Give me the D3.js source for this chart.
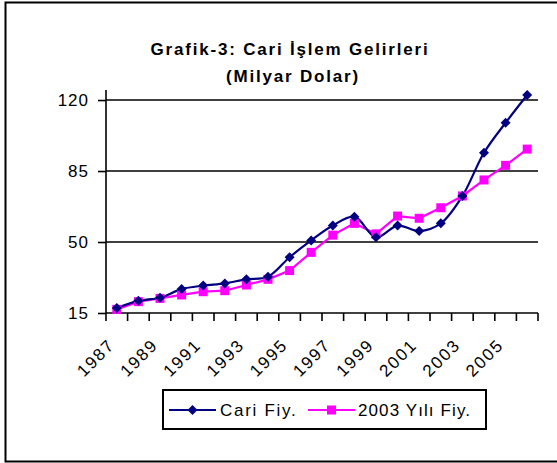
<!DOCTYPE html>
<html>
<head>
<meta charset="utf-8">
<script src="https://cdn.jsdelivr.net/npm/d3@7"></script>
<style>
  body { margin: 0; background: #fff; }
  text { font-family: "Liberation Sans", Arial, sans-serif; fill: #000; }
</style>
</head>
<body>
<div id="chart"></div>
<script>
// values (Milyar Dolar)
const years = ["1987","1988","1989","1990","1991","1992","1993","1994","1995","1996",
               "1997","1998","1999","2000","2001","2002","2003","2004","2005","2006"]
const cariFiy = [17.5, 21, 22.5, 26.8, 28.5, 29.6, 31.6, 32.9, 42.5, 50.8,
                 58.1, 62.5, 52.3, 58.1, 55.4, 59.2, 72.7, 94, 108.8, 122.5]
const yili2003Fiy = [16.8, 20.6, 22.2, 23.9, 25.5, 26, 28.8, 31.6, 35.9, 44.9,
                     53.4, 59.2, 54, 62.8, 61.7, 66.9, 72.7, 80.6, 87.8, 95.8]
const yTicks = [15, 50, 85, 120]
const seriesNames = ["Cari Fiy.", "2003 Yılı Fiy."]

const width = 557, height = 463
const svg = d3.select("#chart").append("svg")
  .attr("width", width).attr("height", height)

// outer chart border
svg.append("rect")
  .attr("x", 5.5).attr("y", 2.5)
  .attr("width", 560).attr("height", 459)
  .attr("fill", "none").attr("stroke", "#000").attr("stroke-width", 2)

const x = d3.scaleBand().domain(years).range([106, 538]).padding(0)
const y = d3.scaleLinear().domain([15, 125]).range([313, 89.9])
const cx = d => x(d) + x.bandwidth() / 2

// title
svg.append("text").attr("x", 290).attr("y", 55).attr("text-anchor", "middle")
  .style("font-size", "17px").style("font-weight", "bold").style("letter-spacing", "1.8px")
  .text("Grafik-3: Cari İşlem Gelirleri")
svg.append("text").attr("x", 293).attr("y", 82).attr("text-anchor", "middle")
  .style("font-size", "17px").style("font-weight", "bold").style("letter-spacing", "1.8px")
  .text("(Milyar Dolar)")

// gridlines
svg.append("g").selectAll("line").data(yTicks.slice(1)).enter().append("line")
  .attr("x1", 106).attr("x2", 538)
  .attr("y1", d => y(d)).attr("y2", d => y(d))
  .attr("stroke", "#000").attr("stroke-width", 1.6)

// y axis
const yAxis = svg.append("g").attr("transform", "translate(106,0)")
  .call(d3.axisLeft(y).tickValues(yTicks).tickSize(8).tickPadding(9))
yAxis.selectAll("path, line").attr("stroke", "#000").attr("stroke-width", 1.6)
yAxis.select(".domain").attr("d", "M0," + y(125) + "V" + y(15))
yAxis.selectAll("text").style("font-size", "17px").style("letter-spacing", "1px")
  .style("font-family", "Liberation Sans, Arial, sans-serif")

// x axis line + boundary ticks
const xg = svg.append("g")
xg.append("line").attr("x1", 106).attr("x2", 538).attr("y1", y(15)).attr("y2", y(15))
  .attr("stroke", "#000").attr("stroke-width", 1.6)
const bounds = years.map(d => x(d)).concat([x.range()[1]])
xg.selectAll(".tk").data(bounds).enter().append("line")
  .attr("x1", d => d).attr("x2", d => d)
  .attr("y1", y(15)).attr("y2", y(15) + 8)
  .attr("stroke", "#000").attr("stroke-width", 1.6)

// rotated year labels, every other one
xg.selectAll(".lbl").data(years.filter((d, i) => i % 2 === 0)).enter().append("text")
  .attr("text-anchor", "end")
  .attr("transform", d => "translate(" + (cx(d) - 1) + "," + (y(15) + 33) + ") rotate(-45)")
  .style("font-size", "17px").style("letter-spacing", "1.8px")
  .text(d => d)

// lines
const smooth = d3.line().x((d, i) => cx(years[i])).y(d => y(d)).curve(d3.curveCatmullRom.alpha(0.5))
const straight = d3.line().x((d, i) => cx(years[i])).y(d => y(d))

svg.append("path").datum(yili2003Fiy).attr("d", straight)
  .attr("fill", "none").attr("stroke", "#ff00ff").attr("stroke-width", 2.2)
svg.append("path").datum(cariFiy).attr("d", smooth)
  .attr("fill", "none").attr("stroke", "#000080").attr("stroke-width", 2.2)

const sq = 9, dm = 5
svg.append("g").selectAll("rect").data(yili2003Fiy).enter().append("rect")
  .attr("x", (d, i) => cx(years[i]) - sq / 2).attr("y", d => y(d) - sq / 2)
  .attr("width", sq).attr("height", sq).attr("fill", "#ff00ff")
svg.append("g").selectAll("path").data(cariFiy).enter().append("path")
  .attr("transform", (d, i) => "translate(" + cx(years[i]) + "," + y(d) + ")")
  .attr("d", "M0,-" + dm + "L" + dm + ",0L0," + dm + "L-" + dm + ",0Z")
  .attr("fill", "#000080")

// legend
const lg = svg.append("g")
lg.append("rect").attr("x", 163).attr("y", 390).attr("width", 323).attr("height", 39)
  .attr("fill", "#fff").attr("stroke", "#000").attr("stroke-width", 2)
lg.append("line").attr("x1", 169).attr("x2", 216).attr("y1", 410).attr("y2", 410)
  .attr("stroke", "#000080").attr("stroke-width", 2.2)
lg.append("path").attr("transform", "translate(192.5,410)")
  .attr("d", "M0,-" + dm + "L" + dm + ",0L0," + dm + "L-" + dm + ",0Z").attr("fill", "#000080")
lg.append("text").attr("x", 220).attr("y", 416).style("font-size", "17px")
  .style("letter-spacing", "1.7px").text(seriesNames[0])
lg.append("line").attr("x1", 308).attr("x2", 355).attr("y1", 410).attr("y2", 410)
  .attr("stroke", "#ff00ff").attr("stroke-width", 2.2)
lg.append("rect").attr("x", 331.5 - sq / 2).attr("y", 410 - sq / 2).attr("width", sq).attr("height", sq)
  .attr("fill", "#ff00ff")
lg.append("text").attr("x", 358).attr("y", 416).style("font-size", "17px")
  .style("letter-spacing", "1.1px").text(seriesNames[1])
</script>
</body>
</html>
